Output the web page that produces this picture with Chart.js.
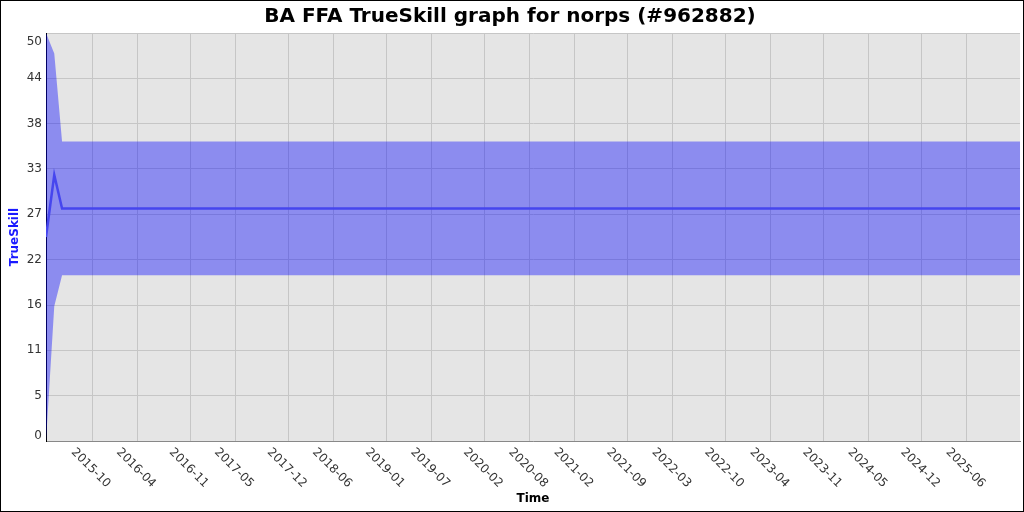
<!DOCTYPE html>
<html>
<head>
<meta charset="utf-8">
<script src="https://cdn.jsdelivr.net/npm/chart.js@4.4.0/dist/chart.umd.min.js"></script>
<style>
  html, body { margin: 0; padding: 0; background: #fff; }
</style>
</head>
<body>
<canvas id="chart" width="1024" height="512"></canvas>
<script>
// rating history (mu) and the +/- 3 sigma band
const dates = ['2015-03-28', '2015-04-30', '2015-06-01', '2026-01-02'];
const skill = [25.0, 32.6, 28.5, 28.5];
const upper = [50.0, 47.5, 36.7, 36.7];
const lower = [0.0, 16.5, 20.3, 20.3];

const xTickLabels = ['2015-10', '2016-04', '2016-11', '2017-05', '2017-12', '2018-06', '2019-01',
  '2019-07', '2020-02', '2020-08', '2021-02', '2021-09', '2022-03', '2022-10', '2023-04',
  '2023-11', '2024-05', '2024-12', '2025-06'];
const yTickLabels = ['0', '5', '11', '16', '22', '27', '33', '38', '44', '50'];
const yMax = 50;

// months since 2015-01, fractional by day
function toMonths(s) {
  const [y, m, d] = s.split('-').map(Number);
  const dim = new Date(y, m, 0).getDate();
  return (y - 2015) * 12 + (m - 1) + (d ? (d - 1) / dim : 0);
}

const xs = dates.map(toMonths);
const pts = arr => arr.map((v, i) => ({ x: xs[i], y: v }));

const FONT = 'DejaVu Sans';

const plotBg = {
  id: 'plotBg',
  beforeDraw(chart) {
    const { ctx, chartArea: a } = chart;
    ctx.save();
    ctx.fillStyle = '#fff';
    ctx.fillRect(0, 0, chart.width, chart.height);
    ctx.fillStyle = '#e5e5e5';
    ctx.fillRect(a.left, a.top, a.right - a.left, a.bottom - a.top);
    ctx.restore();
  },
  afterDraw(chart) {
    const ctx = chart.ctx;
    const sx = chart.scales.x, sy = chart.scales.y;
    ctx.save();
    ctx.font = '12px "' + FONT + '"';
    ctx.fillStyle = '#333';
    // x labels, slanting down to the right
    ctx.textAlign = 'center';
    ctx.textBaseline = 'middle';
    sx.ticks.forEach((t, i) => {
      const px = sx.getPixelForValue(t.value);
      ctx.save();
      ctx.translate(px - 1.5, 468);
      ctx.rotate(Math.PI / 4);
      ctx.fillText(xTickLabels[i], 0, 0);
      ctx.restore();
    });
    // y labels, kept inside the axis range at both ends
    ctx.textAlign = 'right';
    sy.ticks.forEach((t, i) => {
      let py = sy.getPixelForValue(t.value);
      py = Math.min(Math.max(py, sy.top + 9), sy.bottom - 5);
      ctx.fillText(yTickLabels[i], sy.right - 4, py);
    });
    // outer frame
    ctx.strokeStyle = '#000';
    ctx.lineWidth = 1;
    ctx.strokeRect(0.5, 0.5, chart.width - 1, chart.height - 1);
    ctx.restore();
  }
};

new Chart(document.getElementById('chart'), {
  type: 'line',
  data: {
    datasets: [
      {
        label: 'TrueSkill',
        data: pts(skill),
        borderColor: '#4646ee',
        borderWidth: 2.5,
        pointRadius: 0,
        tension: 0,
        fill: false
      },
      {
        label: 'upper',
        data: pts(upper),
        borderWidth: 0,
        borderColor: 'rgba(0,0,0,0)',
        backgroundColor: 'rgba(0,0,255,0.39)',
        pointRadius: 0,
        tension: 0,
        fill: '+1'
      },
      {
        label: 'lower',
        data: pts(lower),
        borderWidth: 0,
        borderColor: 'rgba(0,0,0,0)',
        pointRadius: 0,
        tension: 0,
        fill: false
      }
    ]
  },
  options: {
    responsive: false,
    animation: false,
    layout: { padding: { left: 0, right: 4, top: 0, bottom: 0 } },
    plugins: {
      legend: { display: false },
      tooltip: { enabled: false },
      title: {
        display: true,
        text: 'BA FFA TrueSkill graph for norps (#962882)',
        color: '#000',
        font: { family: FONT, size: 20, weight: 'bold' },
        padding: { top: 5, bottom: 4 }
      }
    },
    scales: {
      x: {
        type: 'linear',
        min: xs[0],
        max: xs[xs.length - 1],
        afterBuildTicks(scale) {
          scale.ticks = xTickLabels.map(l => ({ value: toMonths(l) }));
        },
        afterFit(scale) { scale.height = 71; },
        ticks: { display: false },
        grid: { color: '#c6c6c6', drawTicks: false },
        border: { color: '#888', width: 1 },
        title: {
          display: true,
          text: 'Time',
          color: '#000',
          font: { family: FONT, size: 12, weight: 'bold' },
          padding: { top: 0, bottom: 6 }
        }
      },
      y: {
        min: 0,
        max: yMax,
        afterBuildTicks(scale) {
          scale.ticks = yTickLabels.map((l, i) => ({ value: i * yMax / (yTickLabels.length - 1) }));
        },
        afterFit(scale) { scale.width = 46; },
        ticks: { display: false },
        grid: { color: '#c6c6c6', drawTicks: false },
        border: { color: '#000', width: 1 },
        title: {
          display: true,
          text: 'TrueSkill',
          color: '#1a1aff',
          font: { family: FONT, size: 12, weight: 'bold' },
          padding: { top: 8, bottom: 0 }
        }
      }
    }
  },
  plugins: [plotBg]
});
</script>
</body>
</html>
